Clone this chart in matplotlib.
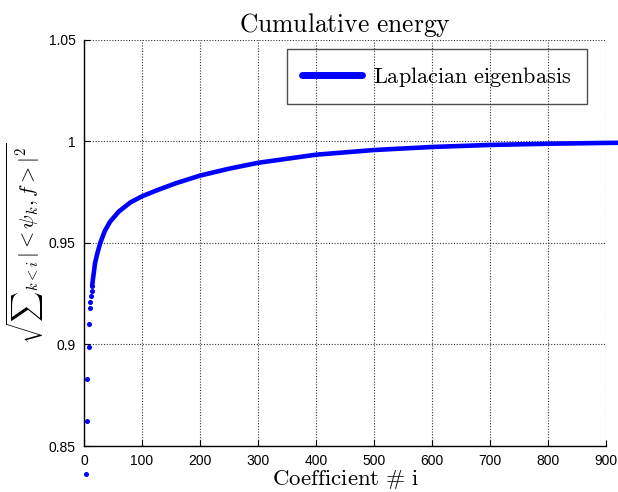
import matplotlib
matplotlib.use("Agg")
import matplotlib.pyplot as plt

plt.rcParams['font.family'] = ['Liberation Sans', 'DejaVu Sans']
plt.rcParams['mathtext.fontset'] = 'cm'

# first coefficients, drawn as separate dots
dot_i = [3, 5, 6, 8, 9, 10, 11, 12, 13, 14]
dot_e = [0.8364, 0.8623, 0.8831, 0.8988, 0.9099, 0.9178, 0.9209, 0.9239, 0.9265, 0.9290]

# rest of the curve (dots merge into a solid band)
curve_i = [14, 16, 19, 23, 28, 36, 45, 60, 80, 100, 126, 158, 200, 250, 300,
           400, 500, 600, 700, 800, 900, 935]
curve_e = [0.9290, 0.9334, 0.9400, 0.9449, 0.9500, 0.9560, 0.9605, 0.9655, 0.9700,
           0.9730, 0.9760, 0.9794, 0.9832, 0.9866, 0.9895, 0.9935, 0.9958, 0.9973,
           0.9983, 0.9989, 0.9993, 0.9994]

xticks = [0, 100, 200, 300, 400, 500, 600, 700, 800, 900]
yticks = [0.85, 0.9, 0.95, 1.0, 1.05]
ytick_labels = ['0.85', '0.9', '0.95', '1', '1.05']

fig = plt.figure(figsize=(6.18, 4.92), dpi=100)
ax = fig.add_axes([84/618, 46/492, 522/618, 406/492])

ax.plot(curve_i, curve_e, color='#0000ff', lw=3.3, clip_on=False,
        solid_capstyle='round', solid_joinstyle='round',
        label=r'$\mathrm{Laplacian\ eigenbasis}$')
ax.plot(dot_i, dot_e, linestyle='none', marker='o', ms=2.6, color='#0000ff',
        clip_on=False)

ax.set_xlim(0, 900)
ax.set_ylim(0.85, 1.05)
ax.set_xticks(xticks)
ax.set_yticks(yticks)
ax.set_yticklabels(ytick_labels)
ax.tick_params(direction='in', length=4, labelsize=10, colors='black', pad=6)

ax.grid(True, color='#333333', linestyle=(0, (1, 1.5)), lw=0.8)
ax.spines['top'].set_visible(False)
ax.spines['right'].set_visible(False)
ax.spines['left'].set_linewidth(1.0)
ax.spines['bottom'].set_linewidth(1.0)

ax.set_title(r'$\mathrm{Cumulative\ energy}$', fontsize=18.4, pad=6)
ax.set_xlabel(r'$\mathrm{Coefficient\ \#\ i}$', fontsize=16.5, labelpad=0)
ax.set_ylabel(r'$\sqrt{{\sum}_{k<i}\,|<\psi_k,f>|^2}$', fontsize=15)
ax.yaxis.set_label_coords(-38/522, 0.5)

leg = ax.legend(loc='upper right', bbox_to_anchor=(503/522, 397/406),
                borderaxespad=0, fontsize=16, frameon=True, fancybox=False,
                facecolor='none', edgecolor='#222222', handlelength=2.7,
                borderpad=0.7, handletextpad=0.5)
leg.get_frame().set_linewidth(1.0)
leg.get_lines()[0].set_linewidth(5)

fig.savefig('out.png', dpi=100)
